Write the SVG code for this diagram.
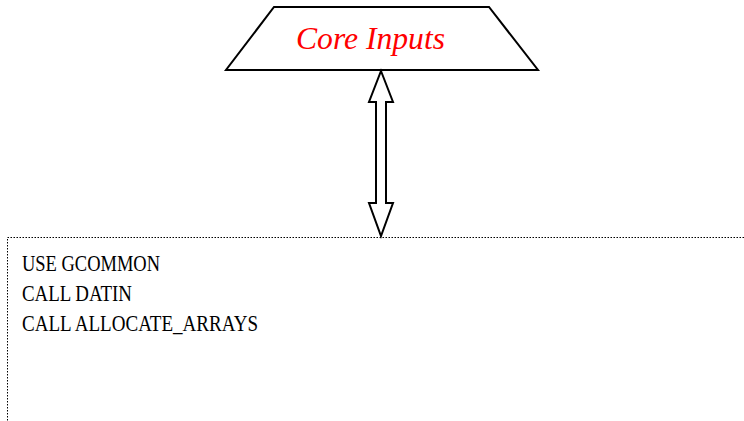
<svg xmlns="http://www.w3.org/2000/svg" width="744" height="421" viewBox="0 0 744 421">
<style>
.shape{fill:#fff;stroke:#000;stroke-width:2}
.lbl{font-family:'Liberation Serif','Times New Roman','DejaVu Serif',serif;font-size:24px;fill:#000}
.title{font-family:'Liberation Serif','Times New Roman','DejaVu Serif',serif;font-size:31px;font-style:italic;fill:#ff0000}
</style>
<rect width="744" height="421" fill="#fff"/>
<g id="core-inputs">
<polygon class="shape" points="274,7 489,7 538,70 226,70"/>
<text class="title" x="296" y="48.5" textLength="149" lengthAdjust="spacingAndGlyphs">Core Inputs</text>
</g>
<g id="connectors">
<polygon class="shape" points="381,71 393,102 386,102 386,203 393,203 381,236 369,203 376,203 376,102 369,102"/>
</g>
<g id="main-box">
<rect x="7.5" y="237.5" width="760" height="200" fill="none" stroke="#000" stroke-width="1" stroke-dasharray="1.5,1.5"/>
<text class="lbl" x="22" y="270.5" textLength="138" lengthAdjust="spacingAndGlyphs">USE GCOMMON</text>
<text class="lbl" x="22" y="301" textLength="110" lengthAdjust="spacingAndGlyphs">CALL DATIN</text>
<text class="lbl" x="22" y="331" textLength="236" lengthAdjust="spacingAndGlyphs">CALL ALLOCATE_ARRAYS</text>
</g>
</svg>
